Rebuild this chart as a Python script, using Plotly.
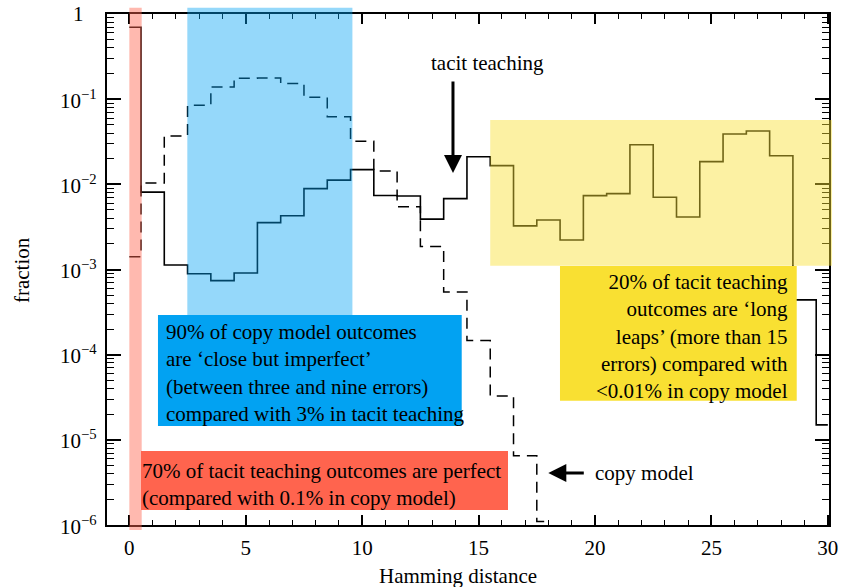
import math
import plotly.graph_objects as go

# Hamming distance bins
tacit_x = list(range(0, 31))
tacit_frac = [0.70, 0.0081, 0.00113, 0.00089, 0.00074, 0.00091, 0.00355, 0.00427,
              0.0089, 0.0112, 0.0149, 0.0074, 0.0073, 0.0039, 0.0068, 0.0211,
              0.0166, 0.00325, 0.00382, 0.00222, 0.00737, 0.00778, 0.0292, 0.00705,
              0.00414, 0.0185, 0.039, 0.0423, 0.0217, 0.00044, 1.5e-5]
copy_x = list(range(0, 19))
copy_frac = [0.00141, 0.0104, 0.037, 0.0848, 0.139, 0.176, 0.177, 0.153, 0.105,
             0.0623, 0.032, 0.01436, 0.00547, 0.00186, 0.000546, 0.000147,
             3.28e-5, 6.5e-6, 1.1e-6]

y_tickvals = [1, 1e-1, 1e-2, 1e-3, 1e-4, 1e-5, 1e-6]
y_ticktext = ["1", "10<sup>−1</sup>", "10<sup>−2</sup>", "10<sup>−3</sup>",
              "10<sup>−4</sup>", "10<sup>−5</sup>", "10<sup>−6</sup>"]

XMIN, XMAX = -0.96, 30.05
FONT = "Liberation Serif"

def px(x):
    return (x - XMIN) / (XMAX - XMIN)

RED = "#FF644E"
BLUE = "#02A2F2"
YEL = "#F9E032"

fig = go.Figure()
fig.add_trace(go.Scatter(x=copy_x, y=copy_frac, mode="lines",
                         line=dict(shape="hvh", color="black", width=1.5, dash="11px,7px"),
                         name="copy model"))
fig.add_trace(go.Scatter(x=tacit_x, y=tacit_frac, mode="lines",
                         line=dict(shape="hvh", color="black", width=1.6),
                         name="tacit teaching"))

shapes = [
    # translucent bands
    dict(type="rect", xref="paper", yref="paper", x0=px(0), x1=px(0.53), y0=-0.01, y1=1.012,
         fillcolor=RED, opacity=0.45, line=dict(width=0), layer="above"),
    dict(type="rect", xref="paper", yref="paper", x0=px(2.49), x1=px(9.58), y0=0.411, y1=1.012,
         fillcolor=BLUE, opacity=0.42, line=dict(width=0), layer="above"),
    dict(type="rect", xref="paper", yref="paper", x0=px(15.5), x1=px(30.18), y0=0.5074, y1=0.7926,
         fillcolor=YEL, opacity=0.45, line=dict(width=0), layer="above"),
    # opaque text boxes
    dict(type="rect", xref="paper", yref="paper", x0=0.0706, x1=0.4913, y0=0.1937, y1=0.411,
         fillcolor=BLUE, line=dict(width=0), layer="above"),
    dict(type="rect", xref="paper", yref="paper", x0=0.0471, x1=0.5554, y0=0.0294, y1=0.1448,
         fillcolor=RED, line=dict(width=0), layer="above"),
    dict(type="rect", xref="paper", yref="paper", x0=0.6274, x1=0.9553, y0=0.2432, y1=0.5068,
         fillcolor=YEL, line=dict(width=0), layer="above"),
]

tf = dict(family=FONT, size=21, color="black")
annotations = [
    dict(xref="paper", yref="paper", x=0.0785, y=0.2975, xanchor="left", yanchor="middle",
         align="left", showarrow=False, font=tf,
         text="90% of copy model outcomes<br>are ‘close but imperfect’<br>(between three and nine errors)<br>compared with 3% in tacit teaching"),
    dict(xref="paper", yref="paper", x=0.0455, y=0.0798, xanchor="left", yanchor="middle",
         align="left", showarrow=False, font=tf,
         text="70% of tacit teaching outcomes are perfect<br>(compared with 0.1% in copy model)"),
    dict(xref="paper", yref="paper", x=0.9466, y=0.3692, xanchor="right", yanchor="middle",
         align="right", showarrow=False, font=tf,
         text="20% of tacit teaching<br>outcomes are ‘long<br>leaps’ (more than 15<br>errors) compared with<br>&lt;0.01% in copy model"),
    dict(xref="paper", yref="paper", x=0.5277, y=0.9047, xanchor="center", yanchor="middle",
         showarrow=False, font=tf, text="tacit teaching"),
    dict(xref="paper", yref="paper", x=0.6727, y=0.1018, xanchor="left", yanchor="middle",
         showarrow=False, font=tf, text="copy model"),
    # arrows
    dict(xref="paper", yref="paper", x=0.4792, y=0.6888, ax=0, ay=-93, text="",
         showarrow=True, arrowhead=2, arrowsize=1.2, arrowwidth=3, arrowcolor="black", standoff=0),
    dict(xref="paper", yref="paper", x=0.6112, y=0.1018, ax=37, ay=0, text="",
         showarrow=True, arrowhead=2, arrowsize=1.2, arrowwidth=3, arrowcolor="black", standoff=0),
    # axis titles
    dict(xref="paper", yref="paper", x=0.486, y=-0.0998, xanchor="center", yanchor="middle",
         showarrow=False, font=tf, text="Hamming distance"),
    dict(xref="paper", yref="paper", x=-0.1177, y=0.499, xanchor="center", yanchor="middle",
         showarrow=False, font=tf, text="fraction", textangle=-90),
]
# y tick labels, centred as in the reference
for v, t in zip(y_tickvals, y_ticktext):
    annotations.append(dict(xref="paper", yref="y", x=-0.039, y=math.log10(v),
                            xanchor="center", yanchor="middle", showarrow=False,
                            font=tf, text=t))

fig.update_layout(
    width=842, height=587,
    margin=dict(l=107, r=13, t=14, b=62, autoexpand=False),
    plot_bgcolor="white", paper_bgcolor="white",
    showlegend=False,
    font=dict(family=FONT, size=21, color="black"),
    shapes=shapes, annotations=annotations,
)
fig.update_xaxes(range=[XMIN, XMAX], showgrid=False, zeroline=False,
                 showline=True, linecolor="black", linewidth=1.5, mirror="allticks",
                 ticks="inside", ticklen=10, tickwidth=1.5, tickcolor="black",
                 tick0=0, dtick=5, ticklabelstandoff=3,
                 minor=dict(ticks="inside", ticklen=5, tickwidth=1, tickcolor="black", dtick=1, showgrid=False),
                 tickfont=dict(family=FONT, size=21, color="black"))
fig.update_yaxes(type="log", range=[-6, 0], showgrid=False, zeroline=False,
                 showline=True, linecolor="black", linewidth=1.5, mirror="allticks",
                 ticks="inside", ticklen=14, tickwidth=2, tickcolor="black",
                 tickmode="array", tickvals=y_tickvals, showticklabels=False,
                 minor=dict(ticks="inside", ticklen=7, tickwidth=1, tickcolor="black", dtick="D1", showgrid=False))

fig.write_html("out.html", config={"displayModeBar": False},
               post_script="document.body.style.margin='0px';")
